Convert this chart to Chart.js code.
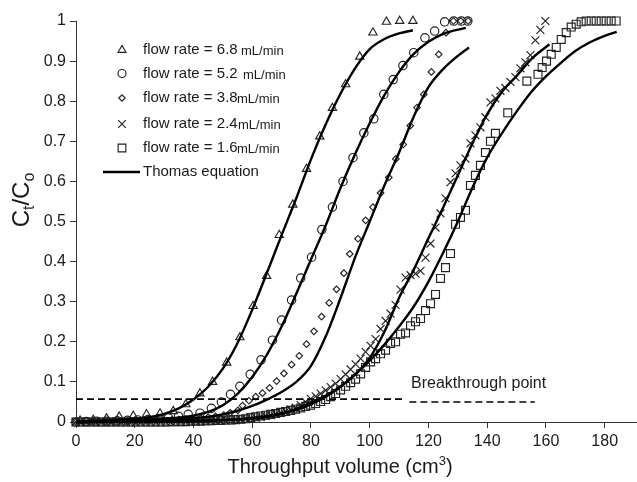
<!DOCTYPE html>
<html>
<head>
<meta charset="utf-8">
<script src="https://cdn.jsdelivr.net/npm/chart.js@4/dist/chart.umd.min.js"></script>
<style>
  html, body { margin: 0; padding: 0; background: #fff; }
  #wrap { width: 637px; height: 482px; }
</style>
</head>
<body>
<div id="wrap"><canvas id="c" width="637" height="482"></canvas></div>
<script>
// ---- axis ticks ----
const xTicks = [0, 20, 40, 60, 80, 100, 120, 140, 160, 180];
const yTicks = [0, 0.1, 0.2, 0.3, 0.4, 0.5, 0.6, 0.7, 0.8, 0.9, 1];

// ---- flow rate 6.8 mL/min (triangles) ----
const q68X = [1.4, 5.9, 10.4, 14.7, 19.5, 24.0, 28.6, 33.1, 37.4, 42.2, 46.5, 51.3, 55.8, 60.3, 64.9, 69.2, 73.8, 78.5, 83.0, 87.3, 91.8, 96.6, 101.1, 105.7, 110.2, 114.7];
const q68Y = [0.003, 0.005, 0.009, 0.013, 0.015, 0.019, 0.021, 0.027, 0.044, 0.071, 0.100, 0.148, 0.211, 0.289, 0.364, 0.466, 0.542, 0.631, 0.712, 0.783, 0.842, 0.911, 0.971, 0.998, 1.0, 1.0];

// ---- flow rate 5.2 mL/min (circles) ----
const q52X = [0, 3.5, 7.0, 10.5, 14.0, 17.5, 21.0, 24.5, 28.0, 31.5, 34.9, 38.2, 42.2, 46.1, 49.5, 52.6, 55.8, 59.3, 63.0, 66.9, 70.0, 73.4, 76.5, 80.2, 83.7, 87.3, 90.9, 94.3, 98.0, 101.4, 104.8, 108.0, 111.3, 115.0, 118.8, 122.1, 125.5, 128.6, 131.2, 133.4];
const q52Y = [0, 0.001, 0.002, 0.002, 0.003, 0.004, 0.005, 0.006, 0.008, 0.010, 0.014, 0.019, 0.022, 0.034, 0.050, 0.069, 0.089, 0.119, 0.155, 0.204, 0.254, 0.304, 0.359, 0.411, 0.480, 0.536, 0.600, 0.659, 0.721, 0.756, 0.817, 0.854, 0.889, 0.921, 0.958, 0.975, 0.998, 1.0, 1.0, 1.0];

// ---- flow rate 3.8 mL/min (diamonds) ----
const q38X = [0, 2.5, 5, 7.5, 10, 12.5, 15, 17.5, 20, 22.5, 25, 27.5, 30, 32.5, 35, 37.5, 40, 42.5, 45, 47.5, 50.3, 52.5, 55.1, 56.7, 58.9, 61.2, 63.5, 65.9, 68.3, 70.8, 73.4, 76.0, 78.5, 81.0, 83.6, 86.2, 88.7, 91.2, 93.2, 96.0, 98.6, 101.1, 103.7, 106.5, 108.9, 111.4, 113.8, 116.1, 118.4, 121.0, 123.5, 126.0, 128.5, 131.0, 133.5];
const q38Y = [0, 0, 0, 0.001, 0.001, 0.002, 0.002, 0.002, 0.003, 0.003, 0.004, 0.004, 0.005, 0.005, 0.006, 0.007, 0.008, 0.010, 0.012, 0.014, 0.017, 0.023, 0.029, 0.041, 0.053, 0.063, 0.072, 0.085, 0.102, 0.121, 0.143, 0.165, 0.194, 0.226, 0.263, 0.297, 0.331, 0.371, 0.419, 0.457, 0.503, 0.536, 0.571, 0.610, 0.656, 0.692, 0.739, 0.784, 0.817, 0.873, 0.917, 0.971, 1.0, 1.0, 1.0];

// ---- flow rate 2.4 mL/min (crosses) ----
const q24X = [0, 1.7, 3.4, 5.1, 6.8, 8.5, 10.2, 11.9, 13.6, 15.3, 17.0, 18.7, 20.4, 22.1, 23.8, 25.5, 27.2, 28.9, 30.6, 32.3, 34.0, 35.7, 37.4, 39.1, 40.8, 42.5, 44.2, 45.9, 47.6, 49.3, 51.0, 52.7, 54.4, 56.1, 57.8, 59.5, 61.2, 62.9, 64.6, 66.3, 68.0, 69.7, 71.4, 73.1, 74.8, 76.5, 78.2, 79.9, 81.6, 83.3, 85.0, 86.7, 88.4, 90.1, 91.8, 93.5, 95.2, 96.9, 98.6, 100.3, 102.0, 103.7, 105.4, 107.1, 108.8, 110.5, 112.2, 113.9, 115.6, 117.3, 119.0, 120.7, 122.4, 124.1, 125.8, 127.5, 129.2, 130.9, 132.6, 134.3, 136.0, 137.7, 139.4, 141.1, 142.8, 144.5, 146.2, 147.9, 149.6, 151.3, 153.0, 154.7, 156.4, 158.1, 159.8];
const q24Y = [0, 0, 0, 0, 0, 0, 0, 0, 0, 0, 0, 0, 0, 0, 0, 0, 0, 0, 0, 0, 0.001, 0.001, 0.001, 0.001, 0.002, 0.002, 0.002, 0.003, 0.003, 0.004, 0.004, 0.005, 0.006, 0.007, 0.008, 0.009, 0.011, 0.013, 0.015, 0.017, 0.020, 0.023, 0.027, 0.031, 0.036, 0.042, 0.050, 0.058, 0.064, 0.071, 0.079, 0.087, 0.096, 0.107, 0.119, 0.131, 0.144, 0.158, 0.175, 0.190, 0.207, 0.232, 0.252, 0.270, 0.292, 0.330, 0.360, 0.366, 0.370, 0.377, 0.410, 0.445, 0.485, 0.520, 0.558, 0.598, 0.620, 0.640, 0.657, 0.695, 0.715, 0.735, 0.760, 0.797, 0.807, 0.826, 0.833, 0.848, 0.860, 0.882, 0.897, 0.915, 0.952, 0.978, 1.0];

// ---- flow rate 1.6 mL/min (squares) ----
const q16X = [0, 1.7, 3.4, 5.1, 6.8, 8.5, 10.2, 11.9, 13.6, 15.3, 17.0, 18.7, 20.4, 22.1, 23.8, 25.5, 27.2, 28.9, 30.6, 32.3, 34.0, 35.7, 37.4, 39.1, 40.8, 42.5, 44.2, 45.9, 47.6, 49.3, 51.0, 52.7, 54.4, 56.1, 57.8, 59.5, 61.2, 62.9, 64.6, 66.3, 68.0, 69.7, 71.4, 73.1, 74.8, 76.5, 78.2, 79.9, 81.6, 83.3, 85.0, 86.7, 88.4, 90.1, 91.8, 93.5, 95.2, 96.9, 98.6, 100.3, 102.0, 103.7, 105.4, 107.1, 108.8, 110.5, 112.2, 113.9, 115.6, 117.3, 119.0, 120.7, 122.4, 124.1, 125.8, 127.5, 129.2, 130.9, 132.6, 134.3, 136.0, 137.7, 139.4, 141.1, 142.8, 147.0, 153.5, 157.3, 158.7, 160.2, 161.8, 163.5, 165.2, 166.9, 168.6, 170.3, 172.0, 173.7, 175.4, 177.1, 178.8, 180.5, 182.2, 183.9];
const q16Y = [0, 0, 0, 0, 0, 0, 0, 0, 0, 0, 0, 0, 0, 0, 0, 0, 0, 0, 0, 0.001, 0.001, 0.001, 0.001, 0.002, 0.002, 0.002, 0.003, 0.003, 0.004, 0.004, 0.005, 0.005, 0.006, 0.007, 0.008, 0.011, 0.013, 0.015, 0.017, 0.019, 0.021, 0.024, 0.026, 0.029, 0.032, 0.035, 0.039, 0.042, 0.046, 0.051, 0.056, 0.063, 0.071, 0.080, 0.089, 0.098, 0.107, 0.120, 0.136, 0.150, 0.158, 0.170, 0.179, 0.196, 0.200, 0.219, 0.222, 0.240, 0.250, 0.258, 0.278, 0.295, 0.318, 0.358, 0.385, 0.420, 0.493, 0.510, 0.528, 0.590, 0.615, 0.640, 0.672, 0.700, 0.720, 0.771, 0.850, 0.867, 0.884, 0.900, 0.917, 0.934, 0.954, 0.971, 0.985, 0.992, 0.998, 1.0, 1.0, 1.0, 1.0, 1.0, 1.0, 1.0];

// ---- Thomas equation fits ----
const th68X = [0, 10, 20, 25, 30, 35, 40, 45, 50, 55, 60, 65, 70, 75, 80, 85, 90, 95, 100, 105, 110, 114.7];
const th68Y = [0.001, 0.004, 0.008, 0.012, 0.020, 0.034, 0.056, 0.088, 0.133, 0.197, 0.280, 0.372, 0.466, 0.558, 0.655, 0.742, 0.818, 0.882, 0.930, 0.955, 0.969, 0.977];
const th52X = [0, 20, 30, 40, 45, 50, 55, 60, 65, 70, 75, 80, 85, 90, 95, 100, 105, 110, 115, 120, 125, 132.7];
const th52Y = [0.001, 0.004, 0.008, 0.016, 0.025, 0.042, 0.070, 0.112, 0.168, 0.238, 0.320, 0.405, 0.490, 0.583, 0.668, 0.745, 0.815, 0.873, 0.918, 0.948, 0.968, 0.983];
const th38X = [0, 20, 40, 50, 55, 60, 65, 70, 75, 80, 85, 90, 95, 100, 105, 110, 115, 120, 125, 130, 133.8];
const th38Y = [0, 0.002, 0.009, 0.019, 0.028, 0.040, 0.056, 0.075, 0.100, 0.140, 0.213, 0.308, 0.410, 0.500, 0.590, 0.672, 0.762, 0.835, 0.880, 0.913, 0.934];
const th24X = [0, 40, 60, 70, 75, 80, 85, 90, 95, 100, 105, 110, 115, 120, 125, 130, 135, 140, 145, 150, 155, 161.2];
const th24Y = [0, 0.002, 0.010, 0.022, 0.033, 0.048, 0.066, 0.088, 0.118, 0.160, 0.225, 0.310, 0.380, 0.458, 0.535, 0.615, 0.695, 0.768, 0.823, 0.863, 0.905, 0.942];
const th16X = [0, 60, 70, 75, 80, 85, 90, 95, 100, 105, 110, 115, 120, 125, 130, 135, 140, 145, 150, 155, 160, 165, 170, 175, 180, 184.1];
const th16Y = [0, 0.008, 0.020, 0.030, 0.044, 0.063, 0.088, 0.118, 0.153, 0.193, 0.238, 0.288, 0.350, 0.422, 0.500, 0.585, 0.660, 0.720, 0.774, 0.823, 0.862, 0.895, 0.925, 0.947, 0.963, 0.973];

// ---- breakthrough dashed line ----
const brk1X = [0, 112];
const brk1Y = [0.057, 0.057];
const brk2X = [113.5, 156.2];
const brk2Y = [0.050, 0.050];

const FONT = "'Liberation Sans', Arial, Helvetica, sans-serif";
const INK = '#1a1a1a';

function pts(xs, ys) { return xs.map((x, i) => ({ x, y: ys[i] })); }

function markerSet(label, xs, ys, style, r) {
  return {
    label, data: pts(xs, ys), showLine: false, order: 2, clip: false,
    pointStyle: style, pointRadius: r, pointHoverRadius: r,
    pointBorderWidth: 1.15, pointBorderColor: '#222', pointBackgroundColor: 'rgba(255,255,255,0)'
  };
}
function curveSet(xs, ys) {
  return {
    label: 'Thomas equation', data: pts(xs, ys), showLine: true, order: 1, clip: false,
    borderColor: '#000', borderWidth: 2.4, pointRadius: 0, cubicInterpolationMode: 'monotone', fill: false
  };
}
function dashSet(xs, ys) {
  return {
    label: 'Breakthrough point', data: pts(xs, ys), showLine: true, order: 0, clip: false,
    borderColor: '#000', borderWidth: 1.6, borderDash: [7, 4], pointRadius: 0, fill: false
  };
}

// legend rows: style, radius, text, where "mL/min" starts, row y
const legendRows = [
  ['triangle', 4.6, 'flow rate = 6.8', 241, 50],
  ['circle', 4.0, 'flow rate = 5.2', 243, 73.5],
  ['rectRot', 3.2, 'flow rate = 3.8', 237, 98],
  ['crossRot', 5.4, 'flow rate = 2.4', 238, 124],
  ['rect', 5.4, 'flow rate = 1.6', 237, 148]
];

function richText(ctx, parts, x, y) {
  // parts: [text, size, dy]
  let w = 0;
  parts.forEach(p => { ctx.font = p[1] + 'px ' + FONT; w += ctx.measureText(p[0]).width; });
  let cx = x - w / 2;
  parts.forEach(p => {
    ctx.font = p[1] + 'px ' + FONT;
    ctx.fillText(p[0], cx, y + p[2]);
    cx += ctx.measureText(p[0]).width;
  });
}

const annotations = {
  id: 'annotations',
  afterDraw(chart) {
    const ctx = chart.ctx;
    ctx.save();
    ctx.fillStyle = INK;
    ctx.textBaseline = 'alphabetic';
    ctx.textAlign = 'left';

    // x axis title
    richText(ctx, [['Throughput volume (cm', 20, 0], ['3', 13, -8], [')', 20, 0]], 340, 473);

    // y axis title, rotated
    ctx.save();
    ctx.translate(29, 200);
    ctx.rotate(-Math.PI / 2);
    richText(ctx, [['C', 24, 0], ['t', 16, 5], ['/C', 24, 0], ['o', 16, 5]], 0, 0);
    ctx.restore();

    // breakthrough label
    ctx.font = '16px ' + FONT;
    ctx.textBaseline = 'middle';
    ctx.fillText('Breakthrough point', 411, 384);

    // legend
    legendRows.forEach(r => {
      ctx.strokeStyle = '#222';
      ctx.fillStyle = 'rgba(255,255,255,0)';
      ctx.lineWidth = 1.15;
      Chart.helpers.drawPoint(ctx, { pointStyle: r[0], radius: r[1], borderWidth: 1.15, rotation: 0 }, 122, r[4]);
      ctx.fillStyle = INK;
      ctx.font = '15px ' + FONT;
      ctx.fillText(r[2], 143, r[4]);
      ctx.font = '13px ' + FONT;
      ctx.fillText('mL/min', r[3], r[4] + 1.5);
    });
    ctx.strokeStyle = '#000';
    ctx.lineWidth = 2.4;
    ctx.beginPath();
    ctx.moveTo(103, 172);
    ctx.lineTo(140, 172);
    ctx.stroke();
    ctx.fillStyle = INK;
    ctx.font = '15px ' + FONT;
    ctx.fillText('Thomas equation', 143, 172);
    ctx.restore();
  }
};

Chart.defaults.font.family = FONT;
Chart.defaults.color = INK;

new Chart(document.getElementById('c'), {
  type: 'scatter',
  data: {
    datasets: [
      markerSet('flow rate = 6.8 mL/min', q68X, q68Y, 'triangle', 4.8),
      markerSet('flow rate = 5.2 mL/min', q52X, q52Y, 'circle', 4.2),
      markerSet('flow rate = 3.8 mL/min', q38X, q38Y, 'rectRot', 3.3),
      markerSet('flow rate = 2.4 mL/min', q24X, q24Y, 'crossRot', 5.6),
      markerSet('flow rate = 1.6 mL/min', q16X, q16Y, 'rect', 5.6),
      curveSet(th68X, th68Y),
      curveSet(th52X, th52Y),
      curveSet(th38X, th38Y),
      curveSet(th24X, th24Y),
      curveSet(th16X, th16Y),
      dashSet(brk1X, brk1Y),
      dashSet(brk2X, brk2Y)
    ]
  },
  options: {
    responsive: false,
    animation: false,
    devicePixelRatio: 1,
    layout: { autoPadding: false, padding: { top: 21, right: 0, bottom: 0, left: 0 } },
    plugins: { legend: { display: false }, tooltip: { enabled: false } },
    scales: {
      x: {
        type: 'linear', min: 0, max: 191,
        afterBuildTicks: s => { s.ticks = xTicks.map(v => ({ value: v })); },
        afterFit: s => { s.height = 60; s.paddingRight = 0; s.paddingLeft = 0; },
        grid: { display: true, drawOnChartArea: false, drawTicks: true, tickLength: 6, color: '#333', lineWidth: 1 },
        border: { display: true, color: '#333', width: 1 },
        ticks: { font: { size: 16 }, color: INK, padding: 4, maxRotation: 0, autoSkip: false }
      },
      y: {
        type: 'linear', min: 0, max: 1,
        afterBuildTicks: s => { s.ticks = yTicks.map(v => ({ value: v })); },
        afterFit: s => { s.width = 76; s.paddingTop = 0; s.paddingBottom = 0; },
        grid: { display: true, drawOnChartArea: false, drawTicks: true, tickLength: 6, color: '#333', lineWidth: 1 },
        border: { display: true, color: '#333', width: 1 },
        ticks: { font: { size: 16 }, color: INK, padding: 4, autoSkip: false, callback: v => String(Number(v.toFixed(1))) }
      }
    }
  },
  plugins: [annotations]
});
</script>
</body>
</html>
